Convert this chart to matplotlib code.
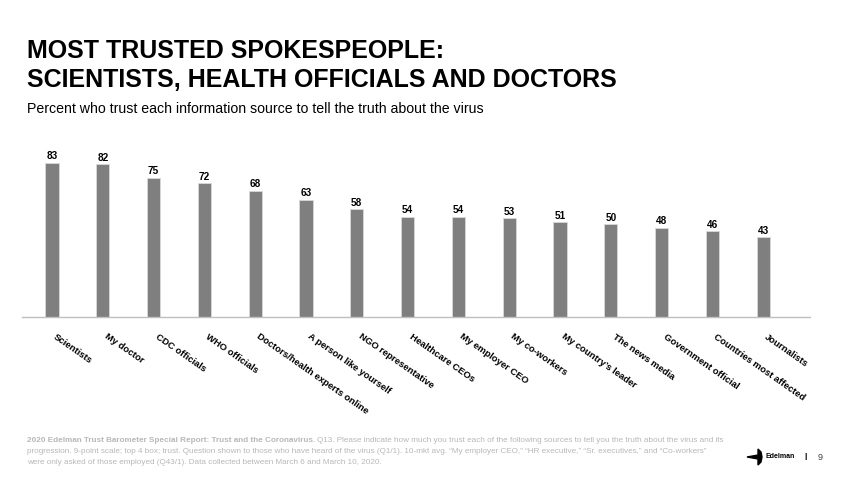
import numpy as np
import matplotlib.pyplot as plt
from matplotlib.patches import Polygon
from matplotlib.transforms import ScaledTranslation

plt.rcParams['font.family'] = ['Liberation Sans', 'DejaVu Sans']

sources = ["Scientists", "My doctor", "CDC officials", "WHO officials",
           "Doctors/health experts online", "A person like yourself",
           "NGO representative", "Healthcare CEOs", "My employer CEO",
           "My co-workers", "My country\u2019s leader", "The news media",
           "Government official", "Countries most affected", "Journalists"]
trust = [83, 82, 75, 72, 68, 63, 58, 54, 54, 53, 51, 50, 48, 46, 43]

W, H = 841, 480
fig = plt.figure(figsize=(W / 100, H / 100), dpi=100)

# axes placed in pixel terms: left 22, right 810, baseline at y=317
ax = fig.add_axes([22 / W, (H - 317) / H, 788 / W, 168 / H])
x = np.arange(len(sources))
ax.bar(x, trust, width=0.26, color="#7f7f7f", edgecolor="#d9d9d9", linewidth=0.6)
ax.set_xlim(-0.59, 14.92)
ax.set_ylim(0, 168 / 1.86)

for xi, v in zip(x, trust):
    ax.annotate(str(v), (xi, v), xytext=(0, 1), textcoords="offset points",
                ha="center", va="bottom", fontsize=7.2, fontweight="bold")

# slanted category labels, hung just right of each bar centre
lab_tr = ax.get_xaxis_transform() + ScaledTranslation(0.05, -0.15, fig.dpi_scale_trans)
for xi, name in zip(x, sources):
    ax.text(xi, 0, name, transform=lab_tr, rotation=-35, rotation_mode="anchor",
            ha="left", va="top", fontsize=6.8, fontweight="bold")

ax.set_xticks([])
ax.set_yticks([])
for s in ["top", "right", "left"]:
    ax.spines[s].set_visible(False)
ax.spines["bottom"].set_color("#bfbfbf")
ax.spines["bottom"].set_linewidth(1.0)

# titles
fig.text(27 / W, 1 - 51 / H, "MOST TRUSTED SPOKESPEOPLE:", fontsize=18,
         fontweight="bold", va="center", ha="left")
fig.text(27 / W, 1 - 80 / H, "SCIENTISTS, HEALTH OFFICIALS AND DOCTORS", fontsize=18,
         fontweight="bold", va="center", ha="left")
fig.text(27 / W, 1 - 109 / H,
         "Percent who trust each information source to tell the truth about the virus",
         fontsize=10.2, va="center", ha="left")

# footnote
grey = "#b8b8b8"
fs = 5.85
fig.canvas.draw()
rend = fig.canvas.get_renderer()
t1 = fig.text(27 / W, 1 - 440 / H,
              "2020 Edelman Trust Barometer Special Report: Trust and the Coronavirus.",
              fontsize=fs, fontweight="bold", color=grey, va="center", ha="left")
bb = t1.get_window_extent(renderer=rend)
fig.text(bb.x1 / W + 2 / W, 1 - 440 / H,
         "Q13. Please indicate how much you trust each of the following sources to tell you the truth about the virus and its",
         fontsize=fs, color=grey, va="center", ha="left")
fig.text(27 / W, 1 - 451.5 / H,
         "progression. 9-point scale; top 4 box; trust. Question shown to those who have heard of the virus (Q1/1). "
         "10-mkt avg. \u201cMy employer CEO,\u201d \u201cHR executive,\u201d \u201cSr. executives,\u201d and \u201cCo-workers\u201d",
         fontsize=fs, color=grey, va="center", ha="left")
fig.text(27 / W, 1 - 463 / H,
         "were only asked of those employed (Q43/1). Data collected between March 6 and March 10, 2020.",
         fontsize=fs, color=grey, va="center", ha="left")

# Edelman logo
logo = [(747, 457), (758, 455), (758, 449), (761, 452), (762, 457),
        (761, 462), (758, 465), (758, 459)]
fig.patches.append(Polygon([(px / W, 1 - py / H) for px, py in logo], closed=True,
                           transform=fig.transFigure, color="black"))
fig.text(765 / W, 1 - 457 / H, "Edelman", fontsize=5, fontweight="bold",
         va="center", ha="left")
fig.text(806 / W, 1 - 457 / H, "|", fontsize=6, fontweight="bold", va="center", ha="center")
fig.text(820 / W, 1 - 457 / H, "9", fontsize=6.5, color="#404040", va="center", ha="center")

fig.savefig("out.png", dpi=100)
